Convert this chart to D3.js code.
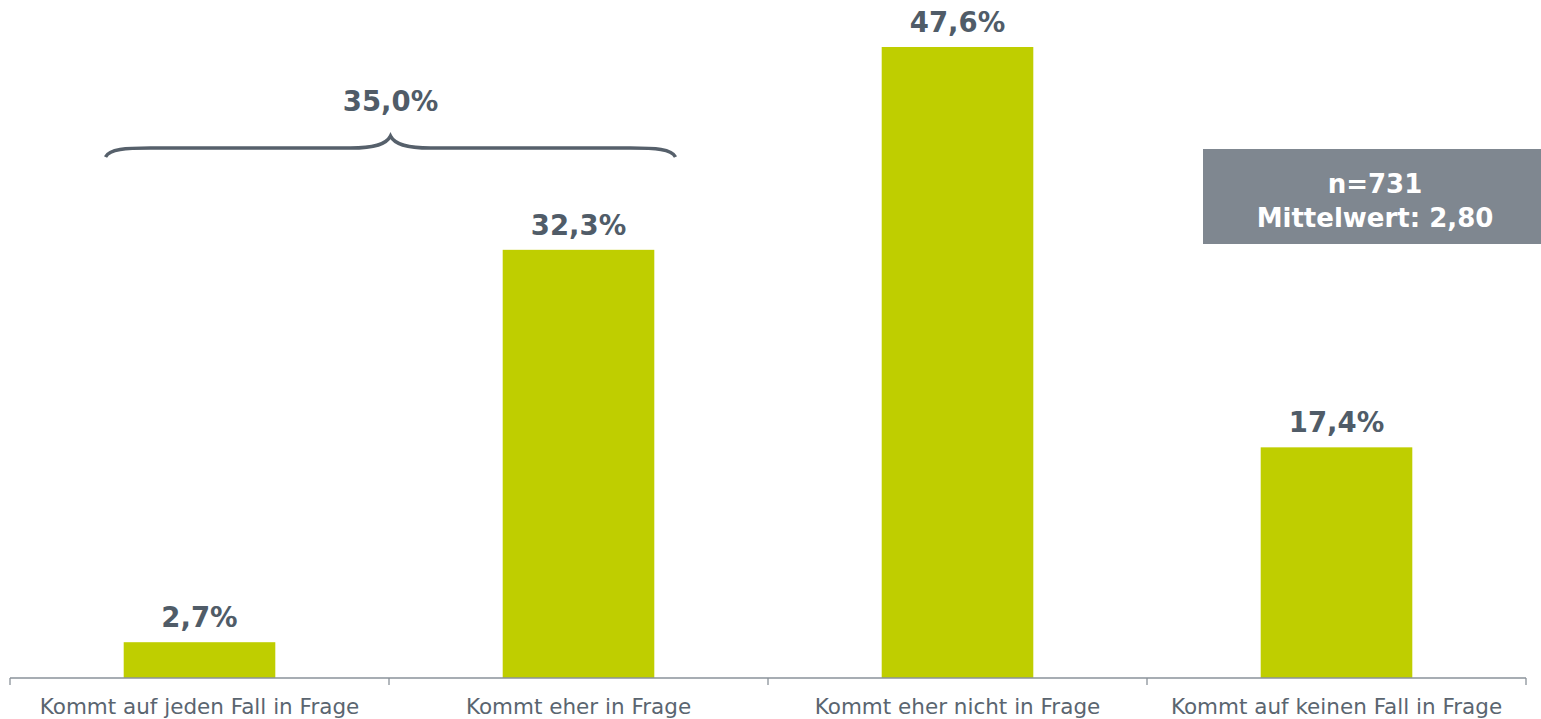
<!DOCTYPE html>
<meta charset="utf-8">
<style>
  body { margin: 0; background: #fff; }
  text { font-family: "DejaVu Sans", Verdana, sans-serif; }
</style>
<svg width="1541" height="719"></svg>
<script src="https://d3js.org/d3.v7.min.js"></script>
<script>
var categories = ["Kommt auf jeden Fall in Frage", "Kommt eher in Frage", "Kommt eher nicht in Frage", "Kommt auf keinen Fall in Frage"]
var values = [2.7, 32.3, 47.6, 17.4]
var valueLabels = ["2,7%", "32,3%", "47,6%", "17,4%"]
var braceLabel = "35,0%"
var infoLines = ["n=731", "Mittelwert: 2,80"]

var svg = d3.select('svg')
var axisY = 678

var x = d3.scaleBand().domain(categories).range([10, 1526]).padding(0)
var y = d3.scaleLinear().domain([0, 47.6]).range([axisY, 47])
var barW = x.bandwidth() * 0.4

// bars
svg.append('g').selectAll('rect')
  .data(categories)
  .enter().append('rect')
  .attr('x', function (d) { return x(d) + x.bandwidth() / 2 - barW / 2 })
  .attr('y', function (d, i) { return y(values[i]) })
  .attr('width', barW)
  .attr('height', function (d, i) { return axisY - y(values[i]) })
  .attr('fill', '#bfce00')

// value labels
svg.append('g').selectAll('text')
  .data(categories)
  .enter().append('text')
  .attr('x', function (d) { return x(d) + x.bandwidth() / 2 })
  .attr('y', function (d, i) { return y(values[i]) - 15 })
  .attr('text-anchor', 'middle')
  .attr('font-size', 27.5)
  .attr('font-weight', 'bold')
  .attr('fill', '#505c68')
  .text(function (d, i) { return valueLabels[i] })

// axis
var axis = svg.append('g')
axis.append('line')
  .attr('x1', 10).attr('x2', 1526)
  .attr('y1', axisY).attr('y2', axisY)
  .attr('stroke', '#8a929a').attr('stroke-width', 1.3)
var tickXs = categories.map(function (d) { return x(d) }).concat([x.range()[1]])
axis.selectAll('.tick')
  .data(tickXs)
  .enter().append('line')
  .attr('x1', function (d) { return d }).attr('x2', function (d) { return d })
  .attr('y1', axisY).attr('y2', axisY + 7)
  .attr('stroke', '#8a929a').attr('stroke-width', 1.3)
axis.selectAll('text')
  .data(categories)
  .enter().append('text')
  .attr('x', function (d) { return x(d) + x.bandwidth() / 2 })
  .attr('y', 714)
  .attr('text-anchor', 'middle')
  .attr('font-size', 21.5)
  .attr('fill', '#5a6570')
  .text(function (d) { return d })

// brace over first two categories
var bx0 = x(categories[0]) + x.bandwidth() / 2 - 94
var bx1 = x(categories[1]) + x.bandwidth() / 2 + 97
var bm = (bx0 + bx1) / 2
var brace = d3.path()
brace.moveTo(bx0, 157)
brace.bezierCurveTo(bx0 + 4, 149, bx0 + 20, 148, bx0 + 45, 148)
brace.lineTo(bm - 40, 148)
brace.bezierCurveTo(bm - 15, 148, bm - 4, 144, bm, 136)
brace.bezierCurveTo(bm + 4, 144, bm + 15, 148, bm + 40, 148)
brace.lineTo(bx1 - 45, 148)
brace.bezierCurveTo(bx1 - 20, 148, bx1 - 4, 149, bx1, 157)
svg.append('path')
  .attr('d', brace.toString())
  .attr('fill', 'none')
  .attr('stroke', '#56606b')
  .attr('stroke-width', 3.5)
svg.append('text')
  .attr('x', bm).attr('y', 111)
  .attr('text-anchor', 'middle')
  .attr('font-size', 27.5)
  .attr('font-weight', 'bold')
  .attr('fill', '#505c68')
  .text(braceLabel)

// info box
svg.append('rect')
  .attr('x', 1203).attr('y', 149)
  .attr('width', 338).attr('height', 95)
  .attr('fill', '#7f8790')
svg.append('g').selectAll('text')
  .data(infoLines)
  .enter().append('text')
  .attr('x', 1375)
  .attr('y', function (d, i) { return 193 + i * 34 })
  .attr('text-anchor', 'middle')
  .attr('font-size', 26)
  .attr('font-weight', 'bold')
  .attr('fill', '#ffffff')
  .text(function (d) { return d })
</script>
